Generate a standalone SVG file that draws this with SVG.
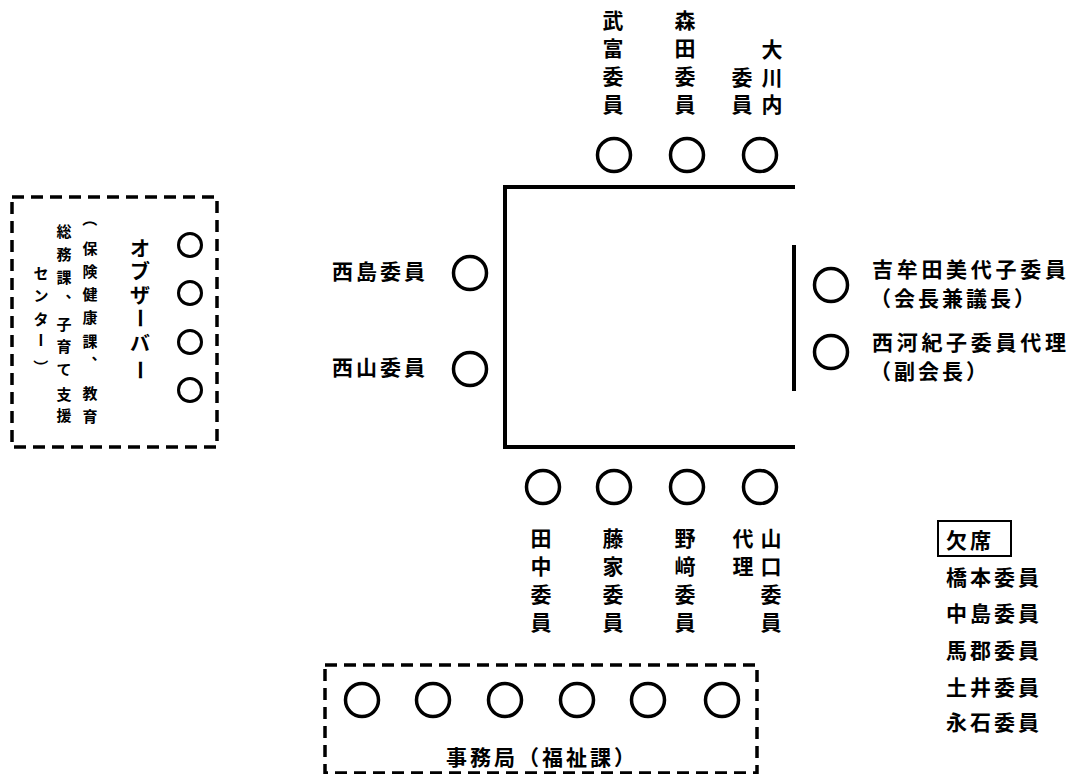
<svg xmlns="http://www.w3.org/2000/svg" width="1072" height="774" viewBox="0 0 1072 774">
<style>
.t{font-family:"Noto Sans CJK JP","Noto Sans CJK SC",sans-serif;font-weight:bold;fill:#000;dominant-baseline:central}
.h{font-size:21px;letter-spacing:3px}
.v{font-size:21px;text-anchor:middle}
.s{font-size:15px;text-anchor:middle}
.seat{fill:none;stroke:#000;stroke-width:3.5}
.oseat{fill:none;stroke:#000;stroke-width:3}
.dash{fill:none;stroke:#000;stroke-width:3.5;stroke-dasharray:12 7}
.tbl{fill:none;stroke:#000;stroke-width:4}
</style>
<rect width="1072" height="774" fill="#fff"/>

<g id="table">
<polyline class="tbl" points="795,187 505,187 505,447 795,447"/>
<line class="tbl" x1="794" y1="245" x2="794" y2="391"/>
</g>
<g id="connectors"></g>

<!-- top row -->
<g id="taketomi">
<circle class="seat" cx="614" cy="155" r="16.5"/>
<text class="t v" x="613 613 613 613" y="19 47 75 103">武富委員</text>
</g>
<g id="morita">
<circle class="seat" cx="687" cy="155" r="16.5"/>
<text class="t v" x="685 685 685 685" y="19 47 75 103">森田委員</text>
</g>
<g id="okawachi">
<circle class="seat" cx="760" cy="155" r="16.5"/>
<text class="t v" x="772 772 772" y="48 76 103">大川内</text>
<text class="t v" x="742 742" y="76 103">委員</text>
</g>

<!-- left side -->
<g id="nishijima">
<circle class="seat" cx="470" cy="273" r="16.5"/>
<text class="t h" x="332" y="270">西島委員</text>
</g>
<g id="nishiyama">
<circle class="seat" cx="470" cy="369" r="16.5"/>
<text class="t h" x="332" y="366">西山委員</text>
</g>

<!-- right side -->
<g id="yoshimuta">
<circle class="seat" cx="831" cy="285" r="16.5"/>
<text class="t h" x="872" y="268" style="letter-spacing:3.7px">吉牟田美代子委員</text>
<text class="t h" x="870" y="297">（会長兼議長）</text>
</g>
<g id="nishikawa">
<circle class="seat" cx="831" cy="352" r="16.5"/>
<text class="t h" x="872" y="341" style="letter-spacing:3.7px">西河紀子委員代理</text>
<text class="t h" x="870" y="370">（副会長）</text>
</g>

<!-- bottom row -->
<g id="tanaka">
<circle class="seat" cx="543" cy="487" r="16.5"/>
<text class="t v" x="541 541 541 541" y="537 565 593 621">田中委員</text>
</g>
<g id="fujiie">
<circle class="seat" cx="614" cy="487" r="16.5"/>
<text class="t v" x="613 613 613 613" y="537 565 593 621">藤家委員</text>
</g>
<g id="nozaki">
<circle class="seat" cx="687" cy="487" r="16.5"/>
<text class="t v" x="685 685 685 685" y="537 565 593 621">野﨑委員</text>
</g>
<g id="yamaguchi">
<circle class="seat" cx="760" cy="487" r="16.5"/>
<text class="t v" x="771 771 771 771" y="537 565 593 621">山口委員</text>
<text class="t v" x="743 743" y="537 565">代理</text>
</g>

<!-- observers -->
<g id="observers">
<rect class="dash" x="12" y="197" width="205" height="250"/>
<circle class="oseat" cx="190" cy="245" r="11.5"/>
<circle class="oseat" cx="190" cy="293" r="11.5"/>
<circle class="oseat" cx="190" cy="342" r="11.5"/>
<circle class="oseat" cx="190" cy="390" r="11.5"/>
<text class="t v" style="font-size:20px" x="140 140 140" y="247 270 294">オブザ</text>
<text class="t v" style="font-size:20px" x="140" y="318" transform="rotate(90 140 318)">ー</text>
<text class="t v" style="font-size:20px" x="140" y="342">バ</text>
<text class="t v" style="font-size:20px" x="140" y="370" transform="rotate(90 140 370)">ー</text>
<text class="t s" x="90" y="219" transform="rotate(90 90 219)">（</text>
<text class="t s" x="90 90 90 90 90" y="247 270 293 316 340">保険健康課</text>
<text class="t s" x="90 90 90" y="362 392 415">︑教育</text>
<text class="t s" x="64 64 64 64 64 64 64 64 64" y="230 253 276 300 323 345 368 393 414">総務課︑子育て支援</text>
<text class="t s" x="41 41 41" y="272 294 318">センタ</text>
<text class="t s" x="41" y="340" transform="rotate(90 41 340)">ー</text>
<text class="t s" x="41" y="367" transform="rotate(90 41 367)">）</text>
</g>

<!-- secretariat -->
<g id="secretariat">
<rect class="dash" x="325" y="665" width="432" height="108"/>
<circle class="seat" cx="362" cy="700" r="16.5"/>
<circle class="seat" cx="433" cy="700" r="16.5"/>
<circle class="seat" cx="505" cy="700" r="16.5"/>
<circle class="seat" cx="577" cy="700" r="16.5"/>
<circle class="seat" cx="648" cy="700" r="16.5"/>
<circle class="seat" cx="722" cy="700" r="16.5"/>
<text class="t h" x="446" y="756">事務局（福祉課）</text>
</g>

<!-- absent -->
<g id="absent">
<rect x="938" y="521" width="73" height="35" fill="none" stroke="#000" stroke-width="2"/>
<text class="t h" x="946" y="539">欠席</text>
<text class="t h" x="946" y="576">橋本委員</text>
<text class="t h" x="946" y="612">中島委員</text>
<text class="t h" x="946" y="649">馬郡委員</text>
<text class="t h" x="946" y="686">土井委員</text>
<text class="t h" x="946" y="721">永石委員</text>
</g>
</svg>
